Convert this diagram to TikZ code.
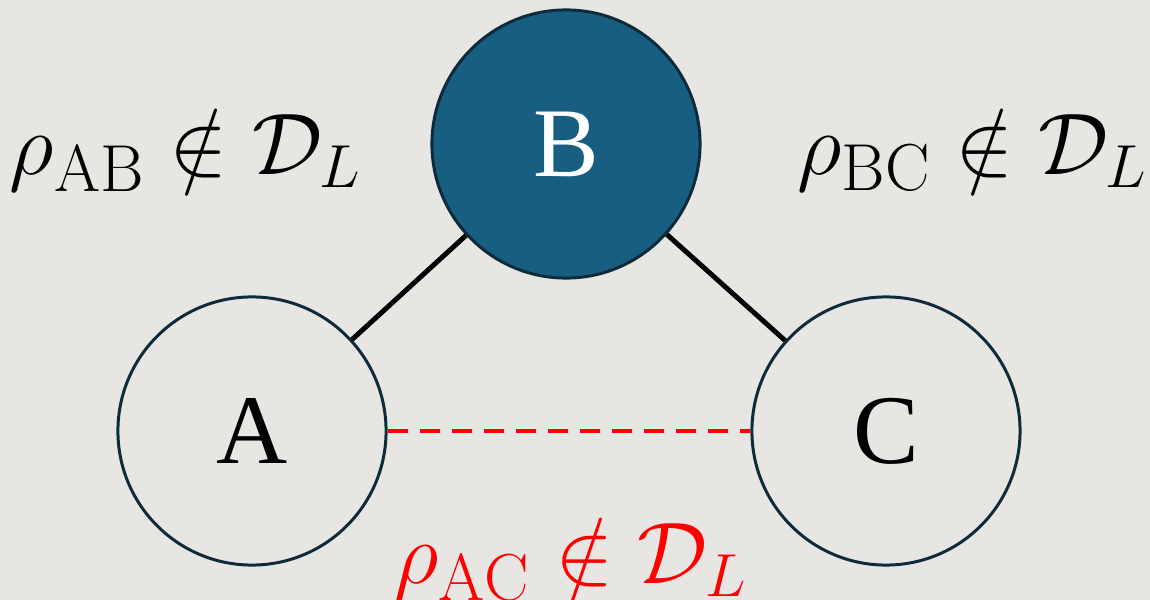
\documentclass[tikz,border=0pt]{standalone}
\usepackage{fontspec}
\newfontfamily\lettfont{Liberation Serif}
\definecolor{bg}{HTML}{E8E6E3}
\definecolor{bfill}{HTML}{175E80}
\definecolor{bdark}{HTML}{0D2B3B}
\definecolor{myred}{HTML}{FF0000}
\begin{document}
\begin{tikzpicture}[x=0.01cm,y=-0.01cm,
  vertex/.style={circle,draw=bdark,line width=0.85pt,minimum size=2.68cm,inner sep=0pt,font=\lettfont\fontsize{28}{30}\selectfont},
  lbl/.style={font=\fontsize{27}{32}\selectfont,inner sep=0pt}]
\fill[bg] (0,0) rectangle (1150,600);
\useasboundingbox (0,0) rectangle (1150,600);
\node[vertex,fill=bfill,text=white] (B) at (566,144) {B};
\node[vertex,fill=bg] (A) at (252,431) {A};
\node[vertex,fill=bg] (C) at (886,431) {C};
\draw[line width=1.4pt,black] (A) -- (B);
\draw[line width=1.4pt,black] (B) -- (C);
\draw[line width=1.1pt,myred,dash pattern=on 0.2cm off 0.12cm] (A) -- (C);
\node[lbl] (lab) at (186,150) {$\rho_{\mathrm{AB}} \notin \mathcal{D}_L$};
\node[lbl] (lbc) at (973,150) {$\rho_{\mathrm{BC}} \notin \mathcal{D}_L$};
\node[lbl,text=myred] (lac) at (571,560) {$\rho_{\mathrm{AC}} \notin \mathcal{D}_L$};
\end{tikzpicture}
\end{document}
